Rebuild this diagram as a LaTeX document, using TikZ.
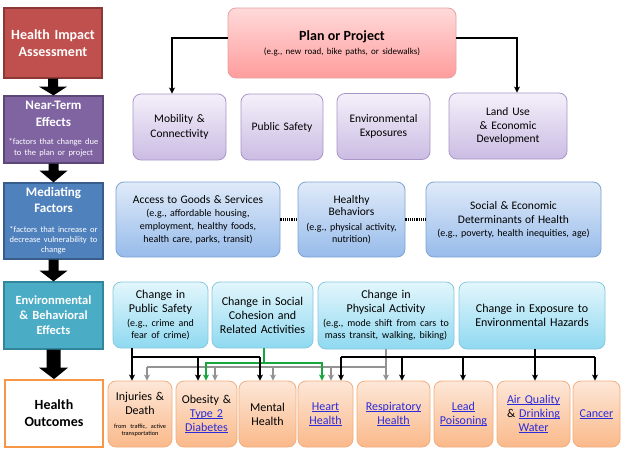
\documentclass[tikz,border=0pt]{standalone}
\usepackage{fontspec}
\setmainfont{Carlito}
\usetikzlibrary{arrows.meta}
\definecolor{hiaRed}{HTML}{C0504D}
\definecolor{hiaDark}{HTML}{8C3836}
\definecolor{ntPurple}{HTML}{8064A2}
\definecolor{ntDark}{HTML}{5C4776}
\definecolor{mfBlue}{HTML}{4F81BD}
\definecolor{mfDark}{HTML}{385D8A}
\definecolor{ebTeal}{HTML}{4BACC6}
\definecolor{ebDark}{HTML}{31859C}
\definecolor{hoOrange}{HTML}{F79646}
\definecolor{planTop}{HTML}{FFDADA}
\definecolor{planBot}{HTML}{FF9C9C}
\definecolor{planLine}{HTML}{E3A3A3}
\definecolor{nearTop}{HTML}{F4F0FA}
\definecolor{nearBot}{HTML}{CBBCE3}
\definecolor{nearLine}{HTML}{A996C6}
\definecolor{medTop}{HTML}{E0EBF9}
\definecolor{medBot}{HTML}{97BBEA}
\definecolor{medLine}{HTML}{7FA2D2}
\definecolor{envTop}{HTML}{E3F6FC}
\definecolor{envBot}{HTML}{8FD9F1}
\definecolor{envLine}{HTML}{86C8DE}
\definecolor{outTop}{HTML}{FDE7D8}
\definecolor{outBot}{HTML}{FAB98A}
\definecolor{outLine}{HTML}{F2AE7E}
\definecolor{linkblue}{HTML}{2B2BD9}
\definecolor{grayline}{HTML}{939393}
\definecolor{greenline}{HTML}{16A83C}
\newcommand\fsz[2]{\fontsize{#1}{#2}\selectfont}
\newcommand\lnk[1]{\leavevmode{\color{linkblue}\setbox0\hbox{#1}\rlap{\rule[-1.7pt]{\wd0}{0.65pt}}\box0}}
\newcommand\blkarrow[6]{% from, to, shaft half, head half, shaft length
  \fill ([xshift=-#3pt]#1.south) -- ([xshift=-#3pt,yshift=-#5pt]#1.south)
    -- ([xshift=-#4pt,yshift=-#5pt]#1.south) -- ([xshift=#6pt]#2.north)
    -- ([xshift=#4pt,yshift=-#5pt]#1.south) -- ([xshift=#3pt,yshift=-#5pt]#1.south)
    -- ([xshift=#3pt]#1.south) -- cycle;}
\tikzset{
  wh/.style 2 args={minimum width=#1pt, text width=#1pt, minimum height=#2pt},
  leftbox/.style={draw, line width=1.3pt, inner sep=0pt, align=center, text=white},
  gbox/.style={rounded corners=8pt, draw, line width=0.8pt, inner sep=0pt, align=center},
  planbox/.style={gbox, top color=planTop, bottom color=planBot, draw=planLine},
  nearbox/.style={gbox, top color=nearTop, bottom color=nearBot, draw=nearLine, font=\fsz{11.5}{14.5}},
  medbox/.style={gbox, top color=medTop, bottom color=medBot, draw=medLine},
  envbox/.style={gbox, top color=envTop, bottom color=envBot, draw=envLine, font=\fsz{12}{14}},
  outbox/.style={gbox, top color=outTop, bottom color=outBot, draw=outLine, font=\fsz{12}{14}},
  tip/.style={-{Stealth[length=6pt,width=6pt,inset=1.5pt]}},
  planarr/.style={tip, line width=1.6pt},
  blkline/.style={line width=1.8pt, black},
  blkarr/.style={blkline, tip},
  grline/.style={line width=1.6pt, grayline},
  grarr/.style={grline, tip},
  gnline/.style={line width=1.6pt, greenline},
  gnarr/.style={gnline, tip},
  dotc/.style={line width=2.2pt, dash pattern=on 1.1pt off 1.1pt},
}
\begin{document}
\begin{tikzpicture}[x=1pt,y=-1pt]
\useasboundingbox (0,0) rectangle (624,453);
\fill[white] (0,0) rectangle (624,453);
% left column
\node[leftbox, fill=hiaRed, draw=hiaDark, wh={98}{70}, font=\bfseries\fsz{14}{17}] (hia) at (53,43) {Health Impact\\Assessment};
\node[leftbox, fill=ntPurple, draw=ntDark, wh={99}{67}] (nt) at (53.5,129.5)
  {{\bfseries\fsz{13}{17}Near-Term\\Effects\par}\vspace{7pt}{\fsz{8.5}{11}*factors that change due\\to the plan or project\par}};
\node[leftbox, fill=mfBlue, draw=mfDark, wh={99}{76}] (mf) at (53.5,221)
  {{\bfseries\fsz{13}{16}Mediating\\Factors\par}\vspace{10pt}{\fsz{8.5}{10}*factors that increase or\\decrease vulnerability to\\change\par}};
\node[leftbox, fill=ebTeal, draw=ebDark, wh={99}{67}, font=\bfseries\fsz{12.5}{15}] (eb) at (53.5,315.5) {Environmental\\\& Behavioral\\Effects};
\node[leftbox, fill=white, draw=hoOrange, line width=1.8pt, text=black, wh={98}{67}, font=\bfseries\fsz{14}{17}] (ho) at (54,413.5) {Health\\Outcomes};
\blkarrow{hia}{nt}{5}{14}{8}{0}
\blkarrow{nt}{mf}{5}{14}{7}{0}
\blkarrow{mf}{eb}{5}{14}{11}{0}
\blkarrow{eb}{ho}{7}{14.5}{18}{0}
% plan
\node[planbox, wh={228}{70}] (plan) at (342,43)
  {{\bfseries\fsz{14}{17}Plan or Project\par}\vspace{3pt}{\fsz{9}{11}(e.g., new road, bike paths, or sidewalks)\par}};
% near-term
\node[nearbox, wh={93}{66}] (mob) at (179.5,127) {Mobility \&\\Connectivity};
\node[nearbox, wh={82}{66}] (pub) at (282,127) {Public Safety};
\node[nearbox, wh={93}{66}] (envx) at (383.5,126.5) {Environmental\\Exposures};
\node[nearbox, wh={118}{66}, font=\fsz{11.5}{13.5}] (land) at (508,126) {Land Use\\\& Economic\\Development};
\draw[planarr] ([yshift=5pt]plan.west) -| ([xshift=-7.5pt]mob.north);
\draw[planarr] ([yshift=5pt]plan.east) -| ([xshift=9pt]land.north);
% mediating
\node[medbox, wh={164}{75}] (acc) at (198,219.5)
  {{\fsz{11.5}{13}Access to Goods \& Services\par}{\fsz{10}{13}(e.g., affordable housing,\\employment, healthy foods,\\health care, parks, transit)\par}};
\node[medbox, wh={107}{75}] (hb) at (351.5,219.5)
  {{\fsz{11.5}{12}Healthy\\Behaviors\par}\vspace{3pt}{\fsz{10}{12}(e.g., physical activity,\\nutrition)\par}};
\node[medbox, wh={175}{75}] (soc) at (513.5,219.5)
  {{\fsz{11.5}{14}Social \& Economic\\Determinants of Health\par}{\fsz{10}{13}(e.g., poverty, health inequities, age)\par}};
\draw[dotc] (acc.east) -- (hb.west);
\draw[dotc] (hb.east) -- (soc.west);
% environmental & behavioral
\node[envbox, wh={95}{66}] (pse) at (160.5,315)
  {{\fsz{12}{14}Change in\\Public Safety\par}\vspace{2pt}{\fsz{10}{12}(e.g., crime and\\fear of crime)\par}};
\node[envbox, wh={101}{66}] (coh) at (262.5,315) {Change in Social\\Cohesion and\\Related Activities};
\node[envbox, wh={136}{67}] (pa) at (386,315.5)
  {{\fsz{12}{14}Change in\\Physical Activity\par}\vspace{2pt}{\fsz{10}{12}(e.g., mode shift from cars to\\mass transit, walking, biking)\par}};
\node[envbox, wh={146}{67}] (exp) at (532,315.5) {Change in Exposure to\\Environmental Hazards};
% outcomes
\node[outbox, wh={64}{66}] (inj) at (140,414)
  {{\fsz{12}{14}Injuries \&\\Death\par}\vspace{7pt}{\fsz{6.3}{7}from traffic, active\\transportation\par}};
\node[outbox, wh={61}{66}] (ob) at (206.5,414) {Obesity \&\\\lnk{Type 2}\\\lnk{Diabetes}};
\node[outbox, wh={57}{66}] (ment) at (267.5,414) {Mental\\Health};
\node[outbox, wh={55}{66}] (heart) at (325.5,414) {\lnk{Heart}\\\lnk{Health}};
\node[outbox, wh={73}{66}] (resp) at (393.5,414) {\lnk{Respiratory}\\\lnk{Health}};
\node[outbox, wh={59}{66}] (lead) at (463.5,414) {\lnk{Lead}\\\lnk{Poisoning}};
\node[outbox, wh={73}{66}] (air) at (533.5,414) {\lnk{Air Quality}\\\& \lnk{Drinking}\\\lnk{Water}};
\node[outbox, wh={47}{66}] (canc) at (596.5,414) {\lnk{Cancer}};
% connector levels
\coordinate (blkY) at (0,357);
\coordinate (gnY) at (0,363);
\coordinate (grY) at (0,367);
% gray (physical activity)
\draw[grarr] (pa.south) -- ([xshift=-7.5pt]resp.north);
\draw[grline] (pa.south |- grY) -- ([xshift=7pt]inj.north |- grY);
\draw[grarr] ([xshift=7pt]inj.north |- grY) -- ([xshift=7pt]inj.north);
\draw[grarr] ([xshift=8.5pt]ob.north |- grY) -- ([xshift=8.5pt]ob.north);
\draw[grarr] ([xshift=5.5pt]ment.north |- grY) -- ([xshift=5.5pt]ment.north);
\draw[grarr] ([xshift=5.5pt]heart.north |- grY) -- ([xshift=5.5pt]heart.north);
% green (social cohesion)
\draw[gnarr] ([xshift=1.5pt]coh.south) |- ([xshift=-0.5pt]ob.north |- gnY) -- ([xshift=-0.5pt]ob.north);
\draw[gnarr] ([xshift=1.5pt]coh.south) |- ([xshift=-3.5pt]heart.north |- gnY) -- ([xshift=-3.5pt]heart.north);
% black (public safety)
\draw[blkarr] ([xshift=-28.5pt]pse.south) -- ([xshift=-8pt]inj.north);
\draw[blkline] ([xshift=-8pt]inj.north |- blkY) -- ([xshift=-7.5pt]ment.north |- blkY);
\draw[blkarr] ([xshift=-8.5pt]ob.north |- blkY) -- ([xshift=-8.5pt]ob.north);
\draw[blkarr] ([xshift=-7.5pt]ment.north |- blkY) -- ([xshift=-7.5pt]ment.north);
% black (exposure)
\draw[blkarr] ([xshift=3pt]exp.south) -- ([xshift=1.5pt]air.north);
\draw[blkline] ([xshift=15.5pt]heart.north |- blkY) -- ([xshift=-1.5pt]canc.north |- blkY);
\draw[blkarr] ([xshift=15.5pt]heart.north |- blkY) -- ([xshift=15.5pt]heart.north);
\draw[blkarr] ([xshift=8.5pt]resp.north |- blkY) -- ([xshift=8.5pt]resp.north);
\draw[blkarr] ([xshift=-0.5pt]lead.north |- blkY) -- ([xshift=-0.5pt]lead.north);
\draw[blkarr] ([xshift=-1.5pt]canc.north |- blkY) -- ([xshift=-1.5pt]canc.north);
\end{tikzpicture}
\end{document}
